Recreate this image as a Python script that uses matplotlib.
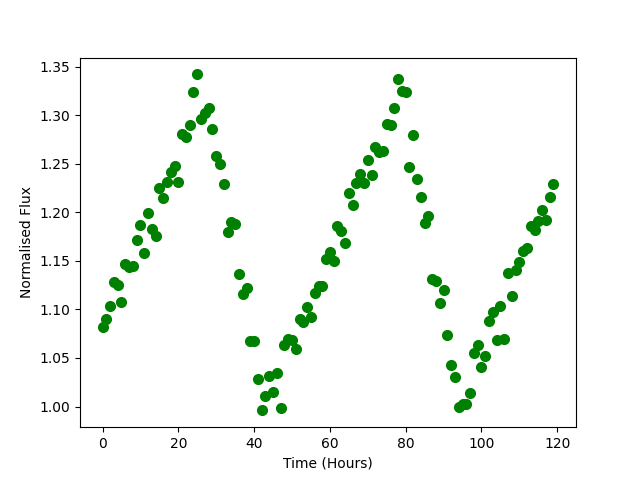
import matplotlib
matplotlib.use('Agg')
import matplotlib.pyplot as plt
import numpy as np

# time in hours, one reading per hour
time = np.arange(120)

flux = [
    1.082, 1.090, 1.103, 1.128, 1.125, 1.108, 1.147, 1.144, 1.145, 1.171,
    1.187, 1.158, 1.199, 1.183, 1.176, 1.225, 1.215, 1.231, 1.242, 1.248,
    1.231, 1.281, 1.278, 1.290, 1.324, 1.342, 1.296, 1.302, 1.307, 1.286,
    1.258, 1.250, 1.229, 1.180, 1.190, 1.188, 1.136, 1.116, 1.122, 1.067,
    1.067, 1.028, 0.996, 1.011, 1.031, 1.015, 1.034, 0.998, 1.063, 1.070,
    1.068, 1.059, 1.090, 1.087, 1.102, 1.092, 1.117, 1.124, 1.124, 1.152,
    1.159, 1.150, 1.186, 1.181, 1.168, 1.220, 1.208, 1.230, 1.239, 1.230,
    1.254, 1.238, 1.267, 1.262, 1.263, 1.291, 1.290, 1.307, 1.337, 1.325,
    1.324, 1.247, 1.280, 1.234, 1.216, 1.189, 1.196, 1.131, 1.129, 1.107,
    1.120, 1.074, 1.043, 1.030, 0.999, 1.003, 1.003, 1.014, 1.055, 1.063,
    1.041, 1.052, 1.088, 1.097, 1.069, 1.103, 1.070, 1.137, 1.114, 1.141,
    1.149, 1.160, 1.163, 1.186, 1.182, 1.191, 1.202, 1.192, 1.216, 1.229,
]

fig, ax = plt.subplots(figsize=(6.4, 4.8), dpi=100)
ax.plot(time, flux, 'o', color='green', markersize=7)

ax.set_xlabel('Time (Hours)')
ax.set_ylabel('Normalised Flux')

plt.savefig('out.png')
